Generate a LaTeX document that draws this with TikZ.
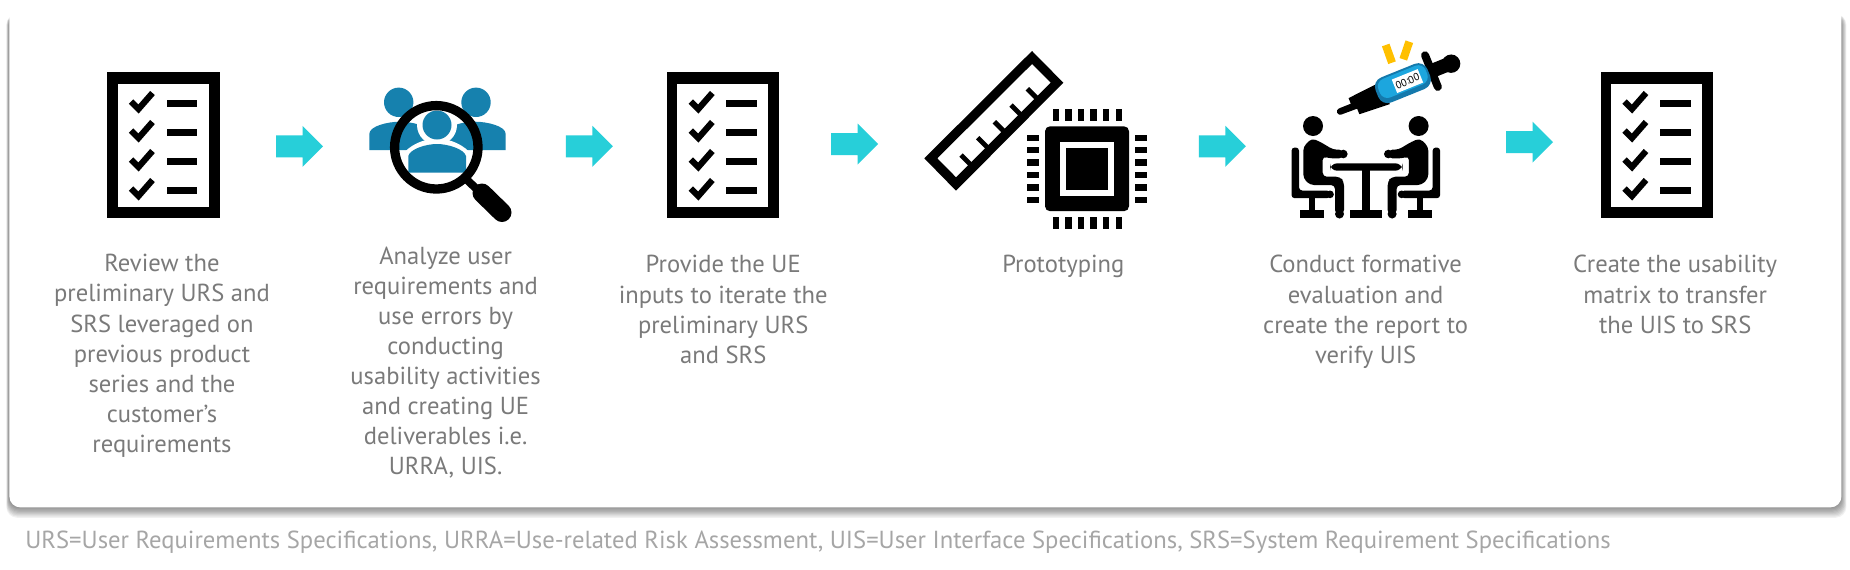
\documentclass[tikz,border=0pt]{standalone}
\usepackage{fontspec}
\setmainfont{PT Sans}
\definecolor{bodygray}{HTML}{7A7A7A}
\definecolor{notegray}{HTML}{A6A6A6}
\definecolor{cyanarrow}{HTML}{27CFD9}
\definecolor{peopleblue}{HTML}{1681AE}
\definecolor{timerdark}{HTML}{1479AC}
\definecolor{timerblue}{HTML}{1CA6DE}
\definecolor{warnyellow}{HTML}{FFC000}
\newcommand{\ftop}{\rule{0pt}{9pt}}
\tikzset{
  x=0.5pt,y=-0.5pt,
  panelshadow/.style={fill=black,fill opacity=0.055,rounded corners=5.5pt},
  steptext/.style={anchor=north,align=center,inner sep=0pt,text=bodygray,font=\fontsize{12.3}{15.05}\selectfont},
  notetext/.style={anchor=north west,inner sep=0pt,text=notegray,font=\fontsize{12.33}{14}\selectfont},
  flowarrow/.style={fill=cyanarrow},
  checkmark/.style={draw=black,line width=3.1pt,miter limit=10},
  pics/checklist/.style={code={
    \fill[black] (0,0) rectangle (112.5,146);
    \fill[white] (10.5,11.5) rectangle (101.5,134.8);
    \foreach \yy in {0,29,58,87}{
      \draw[checkmark] (24,\yy+29.5) -- (31.5,\yy+37) -- (45.5,\yy+21);
      \fill[black] (59.5,\yy+27.8) rectangle (90.3,\yy+35);
    }
  }},
  pics/arrowshape/.style={code={
    \fill[flowarrow] (0,-11) -- (26.5,-11) -- (26.5,-20.5) -- (47,0) -- (26.5,20.5) -- (26.5,11) -- (0,11) -- cycle;
  }},
  pics/sitter/.style={code={
    \fill[black] (1313,126) circle[radius=10];
    \fill[black,rounded corners=2pt] (1311.7,138.3) -- (1320,141.7) -- (1333.3,149.7) -- (1343.3,149.7) -- (1343.3,158.3) -- (1328.3,158.3) -- (1322.7,156) -- (1322.7,176.7) -- (1340,176.7) -- (1344,181.7) -- (1344,214) -- (1335,214) -- (1335,185) -- (1310,185) -- (1303.3,178.3) -- (1303.3,146.7) -- cycle;
    \fill[black] (1343.3,154) circle[radius=4.3];
    \fill[black] (1339.5,214) circle[radius=4.5];
    \fill[black,rounded corners=1.6pt] (1291.5,147.5) -- (1299,147.5) -- (1299,190.5) -- (1330,190.5) -- (1330,198.2) -- (1291.5,198.2) -- cycle;
    \fill[black] (1330,194.35) circle[radius=3.85];
    \fill[black] (1308.5,198) rectangle (1315,210);
    \fill[black] (1299.5,210) rectangle (1323.5,217.7);
  }},
}
\begin{document}
\begin{tikzpicture}
\useasboundingbox (0,0) rectangle (1850,569);
\fill[white] (0,0) rectangle (1850,569);
% panel
\foreach \d in {1,...,9}{
  \fill[panelshadow] (9-\d*0.3,14) rectangle (1841+\d*0.6,507+\d*1.2);
}
\node[fill=white,rounded corners=5.5pt,inner sep=0pt,minimum width=916pt,minimum height=251.5pt,anchor=north west] (panel) at (9,4) {};
% checklists
\pic at (107,72) {checklist};
\pic at (666.8,72) {checklist};
\pic at (1600.5,72) {checklist};
% arrows
\pic at (276,146.3) {arrowshape};
\pic at (565.8,146.3) {arrowshape};
\pic at (831,144) {arrowshape};
\pic at (1198.9,146.3) {arrowshape};
\pic at (1506,142.2) {arrowshape};
% people + magnifier
\fill[peopleblue] (398.7,102.3) circle[radius=14.7];
\fill[peopleblue] (476,102.3) circle[radius=14.7];
\fill[peopleblue] (369.3,150) -- (369.3,134) .. controls (369.3,126) and (388,121.7) .. (400,121.7) .. controls (412,121.7) and (430,126) .. (430,134) -- (430,150) -- cycle;
\fill[peopleblue] (505.7,150) -- (505.7,134) .. controls (505.7,126) and (487,121.7) .. (475,121.7) .. controls (463,121.7) and (445,126) .. (445,134) -- (445,150) -- cycle;
\fill[white] (436.3,147.3) circle[radius=38];
\begin{scope}
\clip (436.3,147.3) circle[radius=38];
\fill[peopleblue] (369.3,150) -- (369.3,134) .. controls (369.3,126) and (388,121.7) .. (400,121.7) .. controls (412,121.7) and (430,126) .. (430,134) -- (430,150) -- cycle;
\fill[peopleblue] (505.7,150) -- (505.7,134) .. controls (505.7,126) and (487,121.7) .. (475,121.7) .. controls (463,121.7) and (445,126) .. (445,134) -- (445,150) -- cycle;
\fill[white] (437,125) circle[radius=20];
\fill[white] (402,176) -- (402,156) .. controls (408,145) and (425,138.5) .. (437,138.5) .. controls (449,138.5) and (466,145) .. (472,156) -- (472,176) -- cycle;
\fill[peopleblue] (437,125) circle[radius=14.5];
\fill[peopleblue] (408.3,172.7) -- (408.3,156) .. controls (410,149) and (426,144) .. (437,144) .. controls (448,144) and (464,149) .. (466,156) -- (466,172.7) -- cycle;
\end{scope}
\draw[black,line width=4.65pt] (436.3,147.3) circle[radius=41.7];
\draw[black,line width=4pt] (465,178) -- (484,196);
\draw[black,line width=9.5pt,line cap=round] (482,193) -- (502,212.5);
% ruler
\fill[black,even odd rule] (1032,51) -- (1063.3,82.7) -- (956,190.7) -- (924.3,158.3) -- cycle
  (1032,64) -- (1050.7,82.7) -- (956,177.3) -- (937.3,158.3) -- cycle;
\foreach \tx/\ty in {1027.3/88.7,1011/105,994.3/121.7,977.7/137.7,961/155}{
  \draw[black,line width=2.4pt] (\tx,\ty) -- ++(10,10);
}
% chip
\fill[black,rounded corners=2.5pt] (1045,126.3) rectangle (1129,211.2);
\fill[white] (1060,141.9) rectangle (1114,195.6);
\fill[black] (1066.4,148.4) rectangle (1107.5,189.8);
\foreach \i in {0,...,5}{
  \fill[black] (1052.6+\i*12.6,109.2) rectangle (1059+\i*12.6,120.5);
  \fill[black] (1052.6+\i*12.6,217) rectangle (1059+\i*12.6,228.6);
  \fill[black] (1027.3,134.5+\i*12.4) rectangle (1039,141+\i*12.4);
  \fill[black] (1135.2,134.5+\i*12.4) rectangle (1146.7,141+\i*12.4);
}
% meeting
\pic {sitter};
\begin{scope}[xshift=682.9pt,xscale=-1,xshift=-682.9pt]
\pic[transform shape] {sitter};
\end{scope}
\fill[black,rounded corners=3.6pt] (1330,163.3) rectangle (1402.5,170.7);
\fill[black] (1362.3,165) rectangle (1370,213);
\fill[black] (1350.3,210) rectangle (1381.7,217.7);
% dropper with timer
\draw[warnyellow,line width=4pt] (1385.7,45) -- (1392,62.7);
\draw[warnyellow,line width=4pt] (1409.3,41.7) -- (1403.3,59.3);
\begin{scope}[shift={(1402.7,82.7)},rotate=22]
\fill[black] (-20,-9) -- (-56,-6) -- (-56,0) -- (-69,0) .. controls (-73,0) and (-73,6.5) .. (-69,6.5) -- (-52,7) -- (-52,13) -- (-20,15) -- cycle;
\fill[black] (26,-7) rectangle (50,7);
\fill[black] (52,0.5) circle[radius=9.2];
\draw[black,line width=4pt,line cap=round] (31,-17) -- (31,17);
\fill[timerdark,rounded corners=5pt] (-28,-13) rectangle (28,14);
\fill[timerblue,rounded corners=4pt] (-25,-11) rectangle (26,9);
\fill[white] (-9,-7) rectangle (19,7.5);
\node[inner sep=0pt,rotate=22,font=\fontsize{5.2}{6}\selectfont,text=black] (timer) at (5,0.3) {00:00};
\end{scope}
% texts
\node[steptext] (t1) at (162,253.4) {\ftop Review the\\preliminary URS and\\SRS leveraged on\\previous product\\series and the\\customer’s\\requirements};
\node[steptext] (t2) at (445.6,245.8) {\ftop Analyze user\\requirements and\\use errors by\\conducting\\usability activities\\and creating UE\\deliverables i.e.\\URRA, UIS.};
\node[steptext] (t3) at (723.2,254.5) {\ftop Provide the UE\\inputs to iterate the\\preliminary URS\\and SRS};
\node[steptext] (t4) at (1063.3,254.5) {\ftop Prototyping};
\node[steptext] (t5) at (1365.6,254.5) {\ftop Conduct formative\\evaluation and\\create the report to\\verify UIS};
\node[steptext] (t6) at (1675.2,254.5) {\ftop Create the usability\\matrix to transfer\\the UIS to SRS};
\node[notetext] (note) at (25,530) {\ftop URS=User Requirements Specifications, URRA=Use-related Risk Assessment, UIS=User Interface Specifications, SRS=System Requirement Specifications};
\end{tikzpicture}
\end{document}
